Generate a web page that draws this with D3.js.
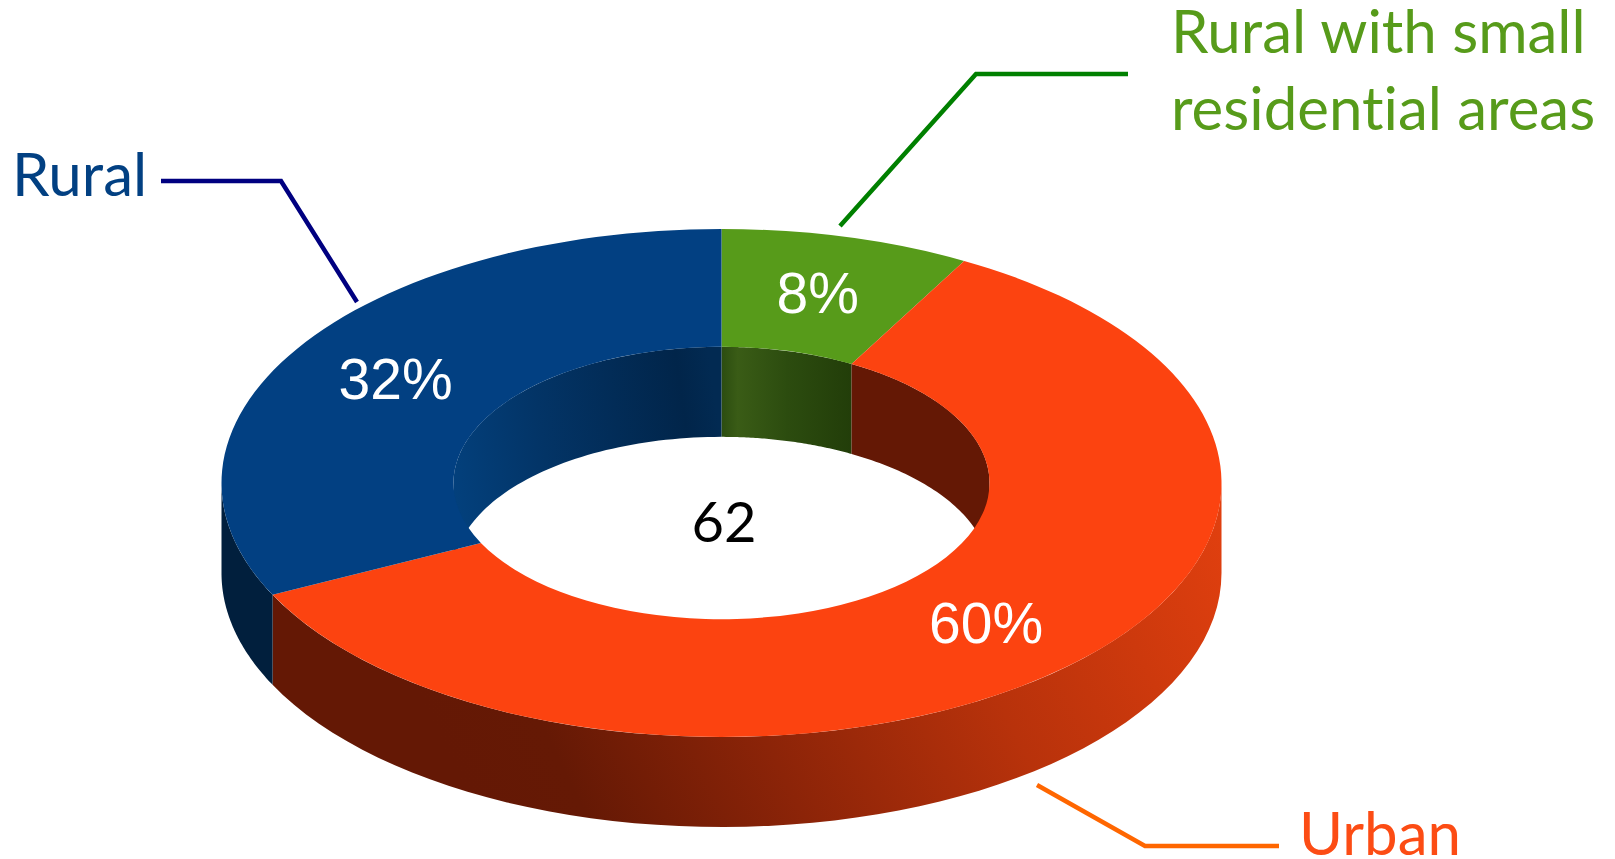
<!DOCTYPE html>
<html>
<head>
<meta charset="utf-8">
<script src="https://cdn.jsdelivr.net/npm/d3@7"></script>
<style>
	html, body { margin: 0; padding: 0; background: #fff; overflow: hidden; }
	.name { font-family: Lato, sans-serif; font-size: 60px; font-variant-ligatures: none; }
	.pct { font-family: "Liberation Sans", sans-serif; font-size: 57px; fill: #fff; text-anchor: middle; }
</style>
</head>
<body>
<div id="chart"></div>
<script>
// Data: counts out of the 62 in the middle
let categories = ["Rural with small residential areas", "Urban", "Rural"];
let counts = [5, 37, 20];
let total = 62;

// Colors per category, same order as above
let topColors = ["#579b1a", "#fc4310", "#024082"];
let lineColors = ["#008000", "#ff6600", "#000080"];
let textColors = ["#579b1a", "#fc4c14", "#024082"];

let width = 1615;
let height = 859;

let cx = 721.5;
let cy = 483;
let outerR = 500;
let innerR = 268;
let squash = 0.508;
let depth = 90;

let svg = d3.select("#chart")
	.append("svg")
	.attr("width", width)
	.attr("height", height);

let defs = svg.append("defs");

function gradient(id, x1, y1, x2, y2, stops) {
	let g = defs.append("linearGradient")
		.attr("id", id)
		.attr("gradientUnits", "userSpaceOnUse")
		.attr("x1", x1).attr("y1", y1)
		.attr("x2", x2).attr("y2", y2);
	stops.forEach(s => {
		g.append("stop").attr("offset", s[0]).attr("stop-color", s[1]);
	});
}

// side walls are shaded, the rest stays flat
gradient("outer-urban", 500, 860, 1225, 500, [
	[0, "#641805"], [0.12, "#651905"], [0.36, "#8c2408"], [0.64, "#b8320b"], [1, "#e2400f"]
]);
gradient("inner-rural", 453, 480, 721, 440, [
	[0, "#03407c"], [0.35, "#033466"], [0.88, "#01254a"], [1, "#022a52"]
]);
gradient("inner-green", 722, 400, 853, 400, [
	[0, "#2c4d10"], [0.12, "#3a5c16"], [0.5, "#2c4c0f"], [1, "#223d09"]
]);

let outerFill = ["#3a5c16", "url(#outer-urban)", "#011f3d"];
let innerFill = ["url(#inner-green)", "#641805", "url(#inner-rural)"];

let pie = d3.pie().sort(null);
let slices = pie(counts);

// Point on the ellipse for a clockwise angle from 12 o'clock
function rimPoint(a, r, dy) {
	return [cx + r * Math.sin(a), cy - r * squash * Math.cos(a) + dy];
}

let line = d3.line();

function wall(a0, a1, r) {
	let steps = d3.range(0, 61).map(i => a0 + (a1 - a0) * i / 60);
	let upper = steps.map(a => rimPoint(a, r, 0));
	let lower = steps.slice().reverse().map(a => rimPoint(a, r, depth));
	return line(upper.concat(lower)) + "Z";
}

// Part of a slice that lies inside an angle range
function overlap(d, lo, hi) {
	let a0 = Math.max(d.startAngle, lo);
	let a1 = Math.min(d.endAngle, hi);
	return a1 > a0 ? [a0, a1] : null;
}

let pi = Math.PI;

// inner wall, back half only
let innerWalls = svg.append("g").attr("class", "inner-walls");
slices.forEach((d, i) => {
	[[0, pi / 2], [pi * 1.5, pi * 2]].forEach(range => {
		let part = overlap(d, range[0], range[1]);
		if (part) {
			innerWalls.append("path")
				.attr("d", wall(part[0], part[1], innerR))
				.attr("fill", innerFill[i]);
		}
	});
});

// outer wall, front half only
let outerWalls = svg.append("g").attr("class", "outer-walls");
slices.forEach((d, i) => {
	let part = overlap(d, pi / 2, pi * 1.5);
	if (part) {
		outerWalls.append("path")
			.attr("d", wall(part[0], part[1], outerR))
			.attr("fill", outerFill[i]);
	}
});

// top surface
let arc = d3.arc().innerRadius(innerR).outerRadius(outerR);

svg.append("g")
	.attr("class", "top")
	.attr("transform", "translate(" + cx + "," + cy + ") scale(1," + squash + ")")
	.selectAll("path")
	.data(slices)
	.join("path")
	.attr("d", arc)
	.attr("fill", (d, i) => topColors[i]);

// percent labels
svg.append("g")
	.selectAll("text")
	.data(slices)
	.join("text")
	.attr("class", "pct")
	.attr("x", d => cx + arc.centroid(d)[0])
	.attr("y", d => cy + arc.centroid(d)[1] * squash + 19)
	.text(d => Math.round(d.data / total * 100) + "%");

svg.append("text")
	.attr("x", 724)
	.attr("y", 542)
	.attr("text-anchor", "middle")
	.style("font-family", "Lato, sans-serif")
	.style("font-size", "56px")
	.style("fill", "#000")
	.text(total);

// leader lines
let leaders = [
	[[1128, 74], [976, 74], [840, 226]],
	[[1037, 785], [1145, 846], [1279, 846]],
	[[161, 181], [281, 181], [357, 302]]
];

svg.append("g")
	.selectAll("path")
	.data(leaders)
	.join("path")
	.attr("d", d => line(d))
	.attr("fill", "none")
	.attr("stroke-width", 4.5)
	.attr("stroke", (d, i) => lineColors[i]);

// category names
let nameSpots = [
	{ x: 1171, y: 53, lines: ["Rural with small", "residential areas"] },
	{ x: 1299, y: 855, lines: [categories[1]] },
	{ x: 12, y: 196, lines: [categories[2]] }
];

nameSpots.forEach((spot, i) => {
	spot.lines.forEach((txt, k) => {
		svg.append("text")
			.attr("class", "name")
			.attr("x", spot.x)
			.attr("y", spot.y + k * 77)
			.style("fill", textColors[i])
			.text(txt);
	});
});
</script>
</body>
</html>
